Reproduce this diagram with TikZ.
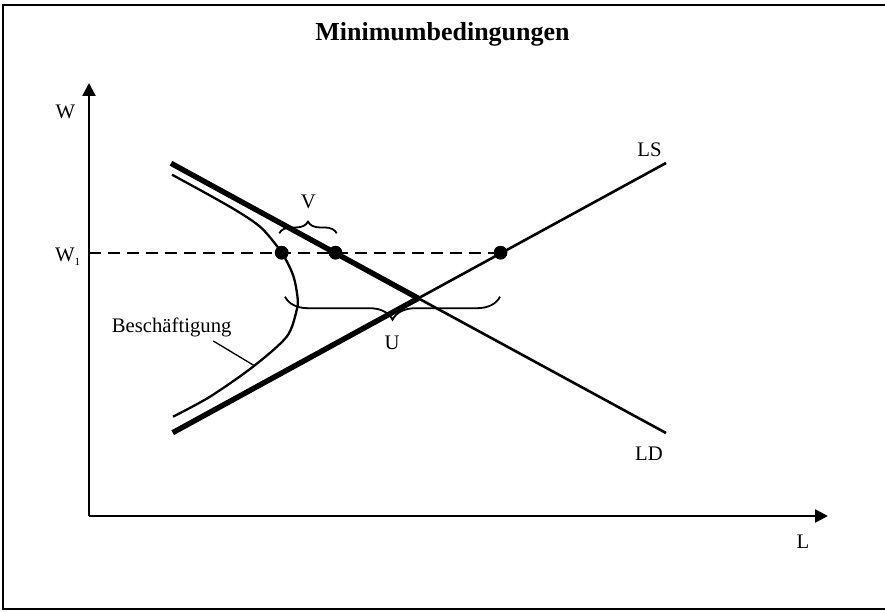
\documentclass[tikz,border=0pt]{standalone}
\usepackage{fontspec}
\setmainfont{Liberation Serif}
\usetikzlibrary{arrows.meta,decorations.pathreplacing}
\tikzset{>=stealth,
  lbl/.style={font=\fontsize{20.7}{24}\selectfont, inner sep=0pt},
  axisline/.style={line width=2.5pt, -{Triangle[length=13pt,width=13pt]}},
  fatline/.style={line width=5.4pt},
  thinline/.style={line width=2.6pt},
  dotmark/.style={circle, fill=black, inner sep=0pt, minimum size=13.5pt},
  bracedeco/.style={decorate, line width=1.8pt, decoration={brace, amplitude=#1}}}

\begin{document}
\begin{tikzpicture}[x=1pt,y=-1pt]
			\useasboundingbox (0,0) rectangle (885,612);
			% frame (open on the right)
			\draw[line width=2.4pt] (885,5) -- (3,5) -- (3,609) -- (885,609);
			\node[font=\fontsize{26}{30}\selectfont\bfseries, inner sep=0pt, anchor=base] (title) at (442.5,40.7) {Minimumbedingungen};
			
			% axes
			\coordinate (O) at (89,516);
			\coordinate (wtop) at (89,83);
			\coordinate (lend) at (828,516);
			\draw[axisline] (O) -- (wtop);
			\draw[axisline] (O) -- (lend);
			\node[lbl] (wlab) at (65.3,111.7) {W};
			\node[lbl] (llab) at (803,541.5) {L};
			\node[lbl, anchor=base west] (w1lab) at (55,261.7) {W\raisebox{-0.35ex}{\fontsize{11}{12}\selectfont 1}};
			
			% LD and LS, thick up to the crossing
			\coordinate (ldA) at (171,163.3);
			\coordinate (ldB) at (666,433);
			\coordinate (lsA) at (172.7,432.7);
			\coordinate (lsB) at (666,163);
			\coordinate (X) at (418.3,298.3);
			\draw[fatline] (ldA) -- (X);
			\draw[thinline] (X) -- (ldB);
			\draw[fatline] (lsA) -- (X);
			\draw[thinline] (X) -- (lsB);
			\node[lbl] (lslab) at (649.5,150) {LS};
			\node[lbl] (ldlab) at (649,453.5) {LD};
			
			% Beschaeftigung curve
			\draw[line width=2.3pt] plot[smooth] coordinates {(172,174.7) (210,195.5) (240,212.8) (262,228.5) (281.7,252.7) (293,275) (297.5,297) (296.7,310) (286.7,336.7) (253,366.7) (210,396.7) (173,416.7)};
			\node[lbl, anchor=base west] (beschlab) at (111.7,332.3) {Beschäftigung};
			\coordinate (leadA) at (213.3,341);
			\coordinate (leadB) at (254,365.5);
			\draw[line width=1.3pt] (leadA) -- (leadB);
			
			% W1 level
			\coordinate (w1) at (89,252.7);
			\node[dotmark] (p1) at (281.7,252.7) {};
			\node[dotmark] (p2) at (335.5,252.7) {};
			\node[dotmark] (p3) at (500.5,252.7) {};
			\draw[line width=2.2pt, dash pattern=on 11.5pt off 7.5pt] (w1) -- (p3.center);
			\foreach \p in {p1,p2,p3} \fill (\p) circle (6.8pt);
			
			% braces
			\draw[bracedeco=11.7pt] (279.3,233.3) -- (336.7,233.3);
			\node[lbl] (vlab) at (308.3,202) {V};
			\draw[bracedeco=23pt] (500,296.7) -- (285,296.7);
			\node[lbl] (ulab) at (392,343) {U};
		\end{tikzpicture}
\end{document}
